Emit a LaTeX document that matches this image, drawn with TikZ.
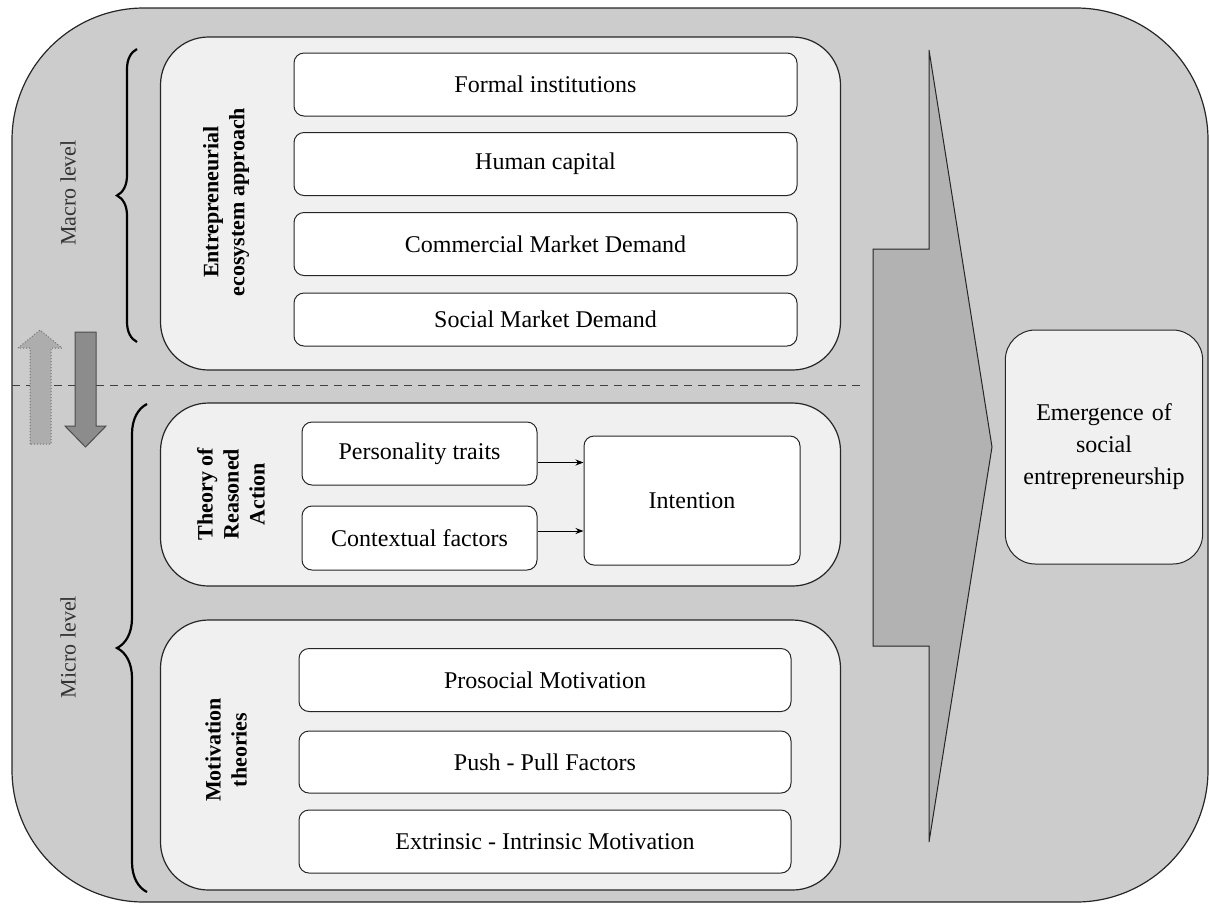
\documentclass[tikz,border=0pt]{standalone}
\usepackage{fontspec}
\setmainfont{Liberation Serif}
\usepackage{tikz}
\usetikzlibrary{positioning, arrows.meta}
\usetikzlibrary{decorations.pathreplacing}

\tikzset{
  frame/.style={draw=black!85, fill=black!20, line width=0.6pt, rounded corners=66pt},
  panel/.style={draw=black!85, fill=black!6, line width=0.6pt, rounded corners=24pt,
    minimum width=340pt},
  item/.style={draw=black!85, fill=white, line width=0.5pt, rounded corners=5pt,
    align=center, font=\fontsize{12}{14}\selectfont},
  side/.style={rotate=90, align=center, font=\fontsize{11}{13}\selectfont\bfseries},
  level/.style={rotate=90, text=black!80, font=\fontsize{11}{13}\selectfont},
  conn/.style={-{Stealth[length=4pt,width=3pt]}, line width=0.5pt},
}

\begin{document}
\begin{tikzpicture}[x=0.5pt, y=-0.5pt]
    \useasboundingbox (0,0) rectangle (1209,917);

    % the big grey frame
    \node[frame, minimum width=598pt, minimum height=447pt] (frame) at (610,455) {};

    % macro / micro separator
    \draw[dashed, dash pattern=on 4pt off 3pt, black!75, line width=0.4pt] (12,385) -- (860,385);

    % the three panels
    \node[panel, minimum height=166.5pt] (eco) at (500.5,203.5) {};
    \node[panel, minimum height=91.5pt] (tra) at (500.5,494.5) {};
    \node[panel, minimum height=135pt] (mot) at (500.5,755) {};

    % titles of the panels
    \node[side] (ecot) at (226,202) {Entrepreneurial\\ecosystem approach};
    \node[side] (trat) at (231,494) {Theory of\\Reasoned\\Action};
    \node[side] (mott) at (226,750) {Motivation\\theories};

    % items of the ecosystem approach
    \node[item, minimum width=251.5pt, minimum height=31.5pt] (formal) at (545.5,84.5) {Formal institutions};
    \node[item, minimum width=251.5pt, minimum height=31.5pt] (human) at (545.5,164) {Human capital};
    \node[item, minimum width=251.5pt, minimum height=31.5pt] (comm) at (545.5,244) {Commercial Market Demand};
    \node[item, minimum width=251.5pt, minimum height=26.5pt] (social) at (545.5,319.5) {Social Market Demand};

    % theory of reasoned action
    \node[item, minimum width=117.5pt, minimum height=31.5pt] (pers) at (419.5,453.5) {Personality traits};
    \node[item, minimum width=117.5pt, minimum height=32pt] (ctx) at (419.5,538) {Contextual factors};
    \node[item, minimum width=108pt, minimum height=64.5pt] (intent) at (692,500.5) {Intention};
    \draw[conn] ([yshift=-4.5pt]pers.east) -- ([yshift=-4.5pt]pers.east -| intent.west);
    \draw[conn] ([yshift=3.5pt]ctx.east) -- ([yshift=3.5pt]ctx.east -| intent.west);

    % motivation theories
    \node[item, minimum width=246pt, minimum height=31.5pt] (pros) at (545,680) {Prosocial Motivation};
    \node[item, minimum width=246pt, minimum height=31pt] (push) at (545,762) {Push - Pull Factors};
    \node[item, minimum width=246pt, minimum height=31.5pt] (extr) at (545,841.5) {Extrinsic - Intrinsic Motivation};

    % braces and levels
    \draw[line width=1.1pt, decorate, decoration={brace, amplitude=10pt}] (137,342) -- (137,49);
    \draw[line width=1.1pt, decorate, decoration={brace, amplitude=15pt}] (147,892) -- (147,404);
    \node[level] (macro) at (68,193) {Macro level};
    \node[level] (micro) at (68,647) {Micro level};

    % up and down arrows
    \filldraw[fill=black!32, draw=black!55, densely dotted, line width=0.5pt]
      (30,444) -- (30,348) -- (18,348) -- (40,330) -- (62,348) -- (51,348) -- (51,444) -- cycle;
    \filldraw[fill=black!45, draw=black!70, line width=0.5pt]
      (75,332) -- (96,332) -- (96,426) -- (106,426) -- (85.5,447) -- (65,426) -- (75,426) -- cycle;

    % the big arrow
    \filldraw[fill=black!30, draw=black!85, line width=0.5pt]
      (873,249) -- (929,249) -- (929,50) -- (992,447) -- (929,842) -- (929,646) -- (873,646) -- cycle;

    % the outcome
    \node[item, fill=black!6, rounded corners=15pt, minimum width=98pt, minimum height=117pt,
      text width=92pt, font=\fontsize{12}{16}\selectfont] (emerg) at (1104,447)
      {Emergence of\\social\\entrepreneurship};
\end{tikzpicture}
\end{document}
